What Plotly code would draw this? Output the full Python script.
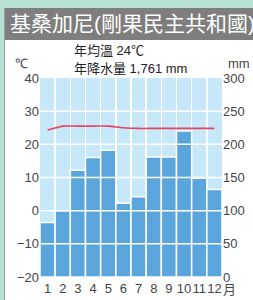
import plotly.graph_objects as go

months = list(range(1, 13))
month_labels = [str(m) for m in months]
temp_c = [24.3, 25.5, 25.5, 25.5, 25.5, 25.0, 24.8, 24.8, 24.8, 24.8, 24.8, 24.8]
precip_mm = [82, 100, 161, 180, 191, 111, 121, 181, 181, 220, 149, 132]
temp_ticks = [-20, -10, 0, 10, 20, 30, 40]
precip_ticks = [0, 50, 100, 150, 200, 250, 300]
title_text = "基桑加尼(剛果民主共和國)"
info_lines = ["年均溫 24℃", "年降水量 1,761 mm"]

W_PX, H_PX = 253, 300
L, R, T, B = 40, 222, 78, 277
PW, PH = R - L, B - T

def px_x(x):
    return (x - L) / PW

def px_y(y):
    return (B - y) / PH

GREEN = "#b7e2d3"
BAR_BG = "#7e7e7e"
PLOT_BG = "#c6e8f8"
BAR = "#5aa6dc"
RED = "#e6435e"
TXT = "#444444"
CJK = "Liberation Sans, Noto Sans CJK TC, sans-serif"
LAT = "Liberation Sans, Arial, sans-serif"

fig = go.Figure()
fig.add_trace(go.Bar(
    x=months, y=precip_mm, yaxis="y2", width=1,
    marker=dict(color=BAR, line=dict(color="white", width=1.5)),
    hoverinfo="skip", showlegend=False,
))
fig.add_trace(go.Scatter(
    x=months, y=temp_c, mode="lines", yaxis="y",
    line=dict(color=RED, width=1.6, shape="spline", smoothing=0.6),
    hoverinfo="skip", showlegend=False,
))

shapes = []
shapes.append(dict(type="rect", xref="paper", yref="paper", x0=px_x(0), x1=px_x(4), y0=px_y(300), y1=px_y(0),
                   fillcolor=GREEN, line=dict(width=0), layer="below"))
shapes.append(dict(type="rect", xref="paper", yref="paper", x0=px_x(0), x1=px_x(253), y0=px_y(8), y1=px_y(0),
                   fillcolor=GREEN, line=dict(width=0), layer="below"))
shapes.append(dict(type="rect", xref="paper", yref="paper", x0=px_x(4), x1=px_x(253), y0=px_y(40), y1=px_y(8),
                   fillcolor=BAR_BG, line=dict(width=0), layer="below"))
shapes.append(dict(type="line", xref="paper", yref="paper", x0=px_x(4.5), x1=px_x(4.5), y0=px_y(300), y1=px_y(8),
                   line=dict(color="#9a9a9a", width=1), layer="below"))
for v in temp_ticks[1:-1]:
    shapes.append(dict(type="line", xref="paper", yref="y", x0=0, x1=1, y0=v, y1=v,
                       line=dict(color="white", width=1.5), layer="above"))

annotations = [
    dict(text=title_text, x=px_x(8), y=px_y(24), xref="paper", yref="paper", xanchor="left", yanchor="middle",
         showarrow=False, font=dict(family=CJK, size=21, color="white")),
    dict(text=info_lines[0], x=px_x(72), y=px_y(51), xref="paper", yref="paper", xanchor="left", yanchor="middle",
         showarrow=False, font=dict(family=CJK, size=13, color="#222222")),
    dict(text=info_lines[1], x=px_x(72), y=px_y(68), xref="paper", yref="paper", xanchor="left", yanchor="middle",
         showarrow=False, font=dict(family=CJK, size=13, color="#222222")),
    dict(text="℃", x=px_x(21), y=px_y(64), xref="paper", yref="paper", xanchor="center", yanchor="middle",
         showarrow=False, font=dict(family=LAT, size=13, color=TXT)),
    dict(text="mm", x=px_x(226), y=px_y(64), xref="paper", yref="paper", xanchor="left", yanchor="middle",
         showarrow=False, font=dict(family=LAT, size=13, color=TXT)),
    dict(text="月", x=px_x(222), y=px_y(299), xref="paper", yref="paper", xanchor="left", yanchor="bottom",
         borderpad=0, showarrow=False, font=dict(family="Noto Sans CJK TC", size=13, color=TXT)),
]

fig.update_layout(
    width=W_PX, height=H_PX,
    margin=dict(l=L, r=W_PX - R, t=T, b=H_PX - B, pad=0, autoexpand=False),
    paper_bgcolor="white", plot_bgcolor=PLOT_BG,
    bargap=0,
    xaxis=dict(range=[0.5, 12.5], tickvals=months, ticktext=month_labels, showgrid=False, tickangle=0,
               zeroline=False, showline=False, ticks="", ticklen=0, automargin=False, ticklabelstandoff=2,
               tickfont=dict(family=LAT, size=13, color=TXT),
               minor=dict(tickvals=[m + 0.5 for m in months[:-1]], showgrid=True, gridcolor="white", gridwidth=1.5,
                          ticks="")),
    yaxis=dict(range=[-20, 40], tickvals=temp_ticks, showgrid=False, zeroline=False, showline=False,
               ticks="", automargin=False, tickfont=dict(family=LAT, size=13, color=TXT)),
    yaxis2=dict(range=[0, 300], tickvals=precip_ticks, overlaying="y", side="right", showgrid=False,
                zeroline=False, showline=False, ticks="", automargin=False,
                tickfont=dict(family=LAT, size=13, color=TXT)),
    shapes=shapes, annotations=annotations,
)

fig.write_html("out.html", config={"displayModeBar": False, "staticPlot": True},
               post_script="document.body.style.margin='0';document.body.style.padding='0';")
